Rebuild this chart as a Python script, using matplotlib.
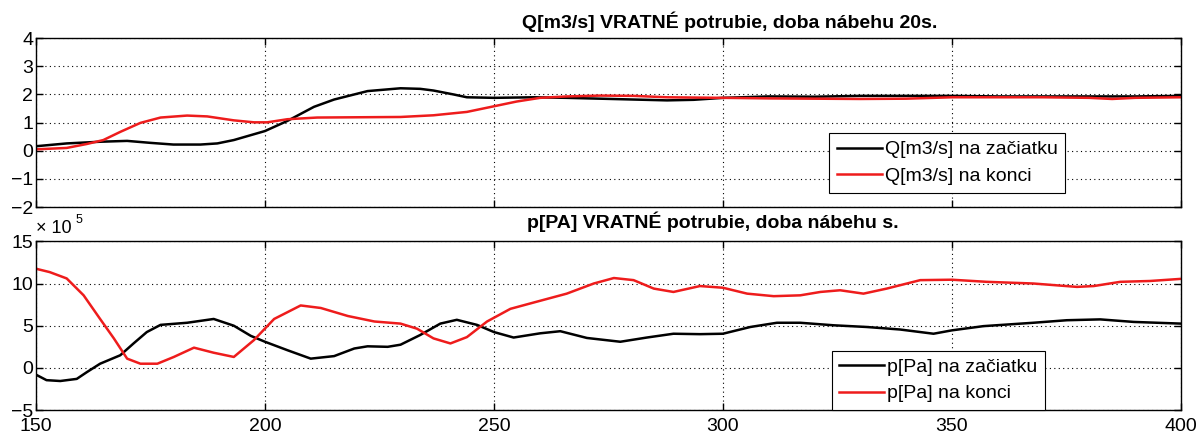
import numpy as np
import matplotlib.pyplot as plt

plt.rcParams['font.family'] = ['Liberation Sans', 'DejaVu Sans']

# --- Q[m3/s] (top panel) ---
q_start_t = [150, 156.7, 164, 169.9, 175, 180, 185.9, 189.6, 193.2, 200, 204.9, 210.7, 215.1,
             222.4, 229.6, 233.9, 236.8, 241.2, 244.1, 250, 258.7, 265.9, 273.2, 280.5, 287.8,
             293.6, 300, 310, 320, 330, 340, 350, 360, 370, 380, 390, 400]
q_start = [0.16, 0.26, 0.32, 0.35, 0.28, 0.22, 0.22, 0.26, 0.38, 0.70, 1.06, 1.56, 1.82,
           2.12, 2.22, 2.20, 2.14, 2.00, 1.90, 1.88, 1.90, 1.88, 1.85, 1.82, 1.79,
           1.81, 1.88, 1.93, 1.92, 1.95, 1.95, 1.95, 1.93, 1.93, 1.93, 1.93, 1.95]

q_end_t = [150, 156.7, 161.1, 164.7, 168.4, 172.8, 177.2, 183, 187.4, 193.2, 197.6, 200.5, 204.9,
           211.4, 229.6, 236.8, 244.1, 250, 255, 260.1, 265.9, 273.2, 280.5, 287.8, 300,
           310, 320, 330, 340, 350, 360, 370, 380, 385, 390, 400]
q_end = [0.05, 0.10, 0.24, 0.38, 0.67, 0.99, 1.18, 1.25, 1.22, 1.08, 1.01, 1.01, 1.12,
         1.18, 1.20, 1.26, 1.38, 1.58, 1.75, 1.88, 1.93, 1.96, 1.95, 1.90, 1.88,
         1.86, 1.85, 1.84, 1.85, 1.90, 1.90, 1.90, 1.88, 1.84, 1.88, 1.90]

# --- p[Pa] (bottom panel), in units of 1e5 Pa ---
p_start_t = [150, 152.3, 155.3, 158.9, 161.1, 164, 168.4, 171.3, 174.2, 177.2, 183, 188.8, 193.2,
             196.9, 200, 204.9, 210, 215.1, 219.5, 222.4, 226.8, 229.6, 233.9, 238.3, 241.9,
             246.3, 250, 254.3, 260.1, 264.5, 270.3, 277.6, 283.4, 289.2, 295, 300, 306,
             311.8, 316.9, 324.2, 331.4, 338.7, 346, 350, 356.9, 367.8, 375.1, 382.4, 389.7, 400]
p_start = [-0.8, -1.45, -1.55, -1.3, -0.5, 0.5, 1.5, 2.9, 4.25, 5.1, 5.35, 5.8, 5.0,
           3.8, 3.1, 2.1, 1.1, 1.4, 2.3, 2.56, 2.5, 2.75, 3.9, 5.25, 5.7,
           5.1, 4.25, 3.6, 4.1, 4.35, 3.55, 3.1, 3.6, 4.05, 4.0, 4.05, 4.85,
           5.35, 5.35, 5.05, 4.85, 4.55, 4.05, 4.45, 4.95, 5.35, 5.65, 5.75, 5.45, 5.25]

p_end_t = [150, 153, 156.7, 160.4, 164, 167, 169.9, 172.8, 176.5, 180.1, 184.5, 188.8, 193.2,
           197.6, 202, 207.8, 212.2, 218.1, 223.9, 229.6, 233.2, 236.8, 240.5, 244.1, 248.5,
           253.6, 258.7, 265.9, 271.8, 276.2, 280.5, 284.9, 289.2, 295, 300, 305.3, 311.1,
           316.9, 321.3, 325.6, 330.7, 335.8, 343.1, 350, 357.6, 367.8, 377.3, 381, 386.8,
           393.3, 400]
p_end = [11.75, 11.35, 10.6, 8.6, 5.8, 3.5, 1.1, 0.5, 0.5, 1.3, 2.4, 1.8, 1.3,
         3.3, 5.8, 7.4, 7.1, 6.15, 5.5, 5.25, 4.65, 3.5, 2.9, 3.65, 5.5,
         7.0, 7.75, 8.8, 10.0, 10.65, 10.4, 9.4, 9.0, 9.7, 9.5, 8.8, 8.5,
         8.6, 9.0, 9.2, 8.8, 9.4, 10.4, 10.45, 10.2, 10.0, 9.6, 9.7, 10.2,
         10.3, 10.55]

x_ticks = [150, 200, 250, 300, 350, 400]

fig = plt.figure(figsize=(12, 4.34), dpi=100)
ax1 = fig.add_axes([0.030, 0.523, 0.954, 0.389])
ax2 = fig.add_axes([0.030, 0.055, 0.954, 0.389])

red = '#ee1c1c'


def style(ax):
    ax.set_xlim(150, 400)
    ax.set_xticks(x_ticks)
    ax.grid(True, color='black', linestyle=(0, (1, 3)), linewidth=0.8)
    ax.tick_params(direction='in', top=True, right=True, length=5, width=1,
                   labelsize=14, pad=2)
    ax.tick_params(axis='x', pad=6)
    for s in ax.spines.values():
        s.set_linewidth(1.0)


def legend(ax, anchor, loc):
    leg = ax.legend(loc=loc, bbox_to_anchor=anchor, fontsize=14, frameon=True,
                    fancybox=False, edgecolor='black', framealpha=1, borderpad=0.4,
                    labelspacing=0.45, handlelength=2.3, handletextpad=0.15,
                    borderaxespad=0)
    leg.get_frame().set_linewidth(0.8)


ax1.plot(q_start_t, q_start, color='black', lw=1.8, label='Q[m3/s] na začiatku')
ax1.plot(q_end_t, q_end, color=red, lw=1.8, label='Q[m3/s] na konci')
style(ax1)
ax1.set_ylim(-2, 4)
ax1.set_yticks([-2, -1, 0, 1, 2, 3, 4])
ax1.tick_params(labelbottom=False)
ax1.text(0.606, 1.06, 'Q[m3/s] VRATNÉ potrubie, doba nábehu 20s.', transform=ax1.transAxes,
         ha='center', va='baseline', fontsize=14, fontweight='bold')
legend(ax1, (0.693, 0.438), 'upper left')

ax2.plot(p_start_t, p_start, color='black', lw=1.8, label='p[Pa] na začiatku')
ax2.plot(p_end_t, p_end, color=red, lw=1.8, label='p[Pa] na konci')
style(ax2)
ax2.set_ylim(-5, 15)
ax2.set_yticks([-5, 0, 5, 10, 15])
ax2.text(0.591, 1.077, 'p[PA] VRATNÉ potrubie, doba nábehu s.', transform=ax2.transAxes,
         ha='center', va='baseline', fontsize=14, fontweight='bold')
ax2.text(0.0, 1.047, '× 10', transform=ax2.transAxes, ha='left', va='baseline', fontsize=13)
ax2.text(0.0345, 1.107, '5', transform=ax2.transAxes, ha='left', va='baseline', fontsize=9)
legend(ax2, (0.695, 0.0), 'lower left')

fig.savefig('out.png', dpi=100)
